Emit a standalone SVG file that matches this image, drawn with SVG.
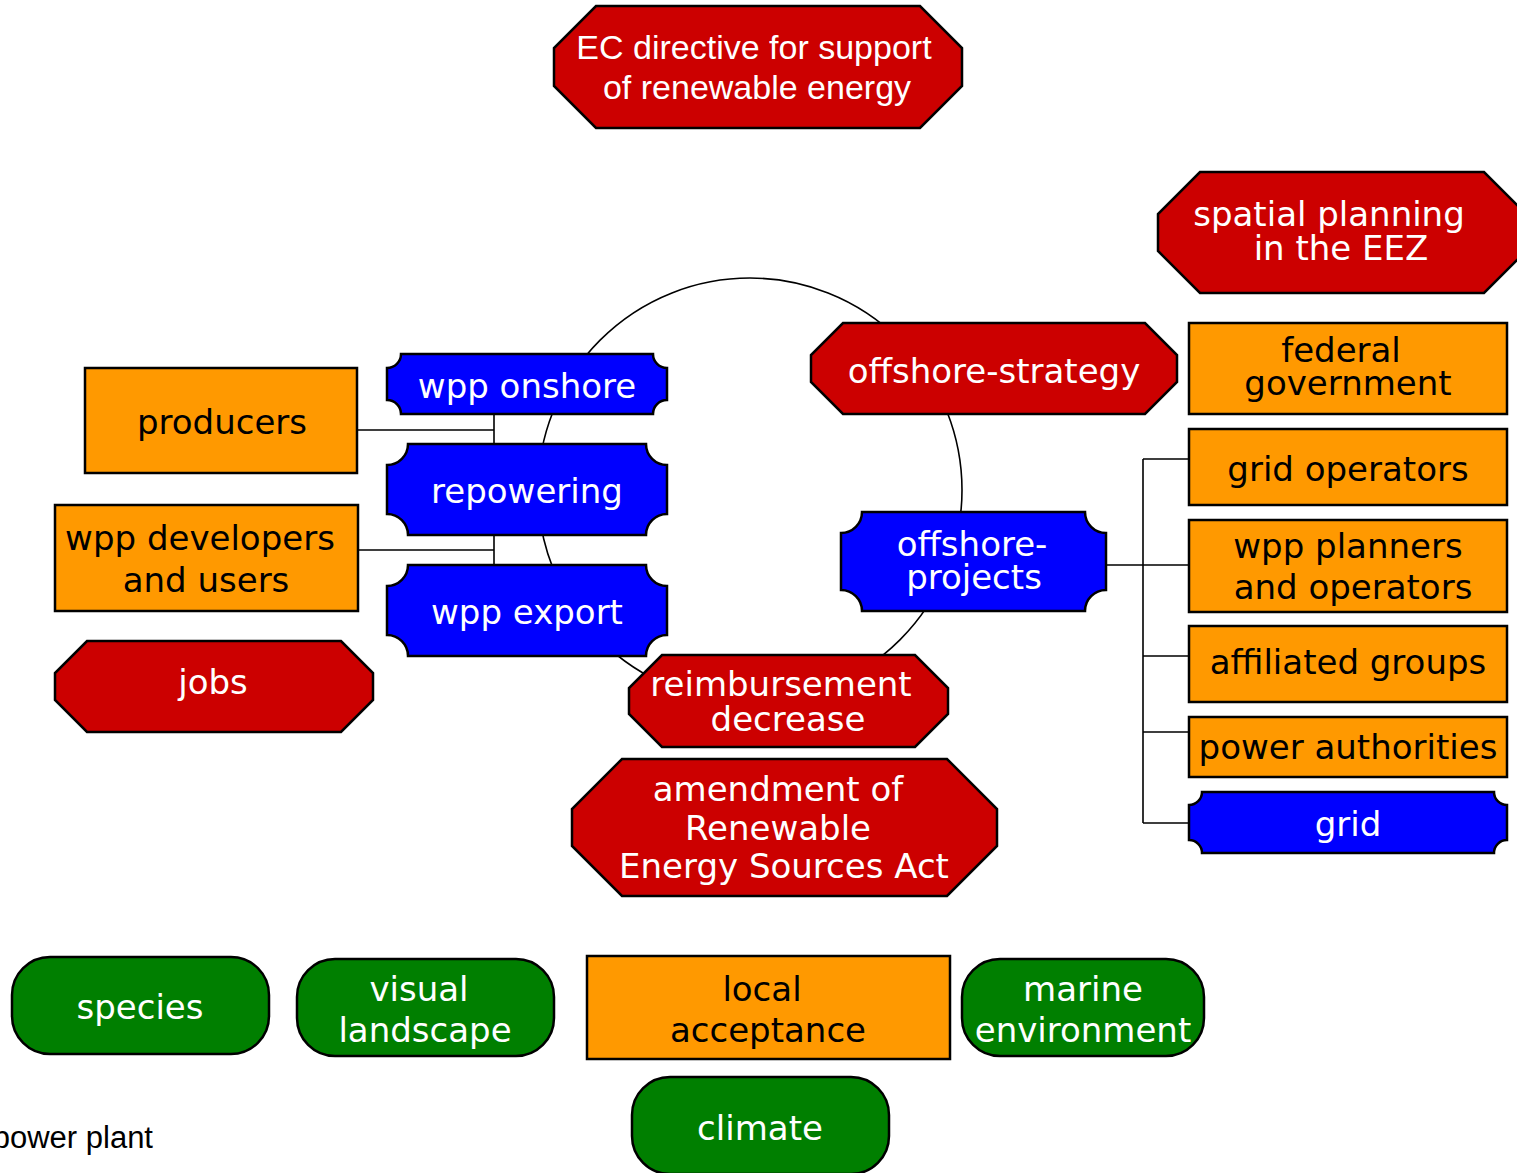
<svg xmlns="http://www.w3.org/2000/svg" width="1517" height="1173" viewBox="0 0 1517 1173">
<style>
.red{fill:#CC0000;stroke:#000;stroke-width:2.5}
.blue{fill:#0000FF;stroke:#000;stroke-width:2.5}
.org{fill:#FF9900;stroke:#000;stroke-width:2.5}
.grn{fill:#007F00;stroke:#000;stroke-width:2.5}
.c{fill:none;stroke:#000;stroke-width:1.6}
text{font-family:"DejaVu Sans",sans-serif;font-size:34px;text-anchor:middle}
.w{fill:#fff}
.k{fill:#000}
.ar{font-family:"Liberation Sans",Arial,sans-serif}
</style>
<rect width="1517" height="1173" fill="#fff"/>
<g id="connectors">
<circle class="c" cx="750" cy="490" r="212"/>
<path class="c" d="M357,430 H494 M494,414 V444 M358,550 H494 M494,535 V565"/>
<path class="c" d="M1143,459 V823 M1143,459 H1189 M1106,565 H1189 M1143,656 H1189 M1143,732 H1189 M1143,823 H1189"/>
</g>
<g id="ec-directive">
<polygon class="red" points="596,6 920,6 962,48 962,86 920,128 596,128 554,86 554,48"/>
<text class="w ar" x="754" y="59">EC directive for support</text>
<text class="w ar" x="757" y="99">of renewable energy</text>
</g>
<g id="spatial-planning">
<polygon class="red" points="1200,172 1484,172 1526,214 1526,251 1484,293 1200,293 1158,251 1158,214"/>
<text class="w" x="1329" y="226">spatial planning</text>
<text class="w" x="1341" y="260">in the EEZ</text>
</g>
<g id="offshore-strategy">
<polygon class="red" points="843,323 1145,323 1177,355 1177,382 1145,414 843,414 811,382 811,355"/>
<text class="w" x="994" y="383">offshore-strategy</text>
</g>
<g id="federal-government">
<rect class="org" x="1189" y="323" width="318" height="91"/>
<text class="k" x="1341" y="362">federal</text>
<text class="k" x="1348" y="395">government</text>
</g>
<g id="producers">
<rect class="org" x="85" y="368" width="272" height="105"/>
<text class="k" x="222" y="434">producers</text>
</g>
<g id="wpp-developers">
<rect class="org" x="55" y="505" width="303" height="106"/>
<text class="k" x="200" y="550">wpp developers</text>
<text class="k" x="206" y="592">and users</text>
</g>
<g id="jobs">
<polygon class="red" points="87,641 341,641 373,673 373,700 341,732 87,732 55,700 55,673"/>
<text class="w" x="213" y="694">jobs</text>
</g>
<g id="wpp-onshore">
<path class="blue" d="M401,354 H653 A14,14 0 0 0 667,368 V400 A14,14 0 0 0 653,414 H401 A14,14 0 0 0 387,400 V368 A14,14 0 0 0 401,354 Z"/>
<text class="w" x="527" y="398">wpp onshore</text>
</g>
<g id="repowering">
<path class="blue" d="M408,444 H646 A21,21 0 0 0 667,465 V514 A21,21 0 0 0 646,535 H408 A21,21 0 0 0 387,514 V465 A21,21 0 0 0 408,444 Z"/>
<text class="w" x="527" y="503">repowering</text>
</g>
<g id="wpp-export">
<path class="blue" d="M408,565 H646 A21,21 0 0 0 667,586 V635 A21,21 0 0 0 646,656 H408 A21,21 0 0 0 387,635 V586 A21,21 0 0 0 408,565 Z"/>
<text class="w" x="527" y="624">wpp export</text>
</g>
<g id="offshore-projects">
<path class="blue" d="M862,512 H1085 A21,21 0 0 0 1106,533 V590 A21,21 0 0 0 1085,611 H862 A21,21 0 0 0 841,590 V533 A21,21 0 0 0 862,512 Z"/>
<text class="w" x="972" y="556">offshore-</text>
<text class="w" x="974" y="589">projects</text>
</g>
<g id="grid-operators">
<rect class="org" x="1189" y="429" width="318" height="76"/>
<text class="k" x="1348" y="481">grid operators</text>
</g>
<g id="wpp-planners">
<rect class="org" x="1189" y="520" width="318" height="92"/>
<text class="k" x="1348" y="558">wpp planners</text>
<text class="k" x="1353" y="599">and operators</text>
</g>
<g id="affiliated-groups">
<rect class="org" x="1189" y="626" width="318" height="76"/>
<text class="k" x="1348" y="674">affiliated groups</text>
</g>
<g id="power-authorities">
<rect class="org" x="1189" y="717" width="318" height="60"/>
<text class="k" x="1348" y="759">power authorities</text>
</g>
<g id="grid">
<path class="blue" d="M1202,792 H1494 A13,13 0 0 0 1507,805 V840 A13,13 0 0 0 1494,853 H1202 A13,13 0 0 0 1189,840 V805 A13,13 0 0 0 1202,792 Z"/>
<text class="w" x="1348" y="836">grid</text>
</g>
<g id="reimbursement-decrease">
<polygon class="red" points="662,655 915,655 948,688 948,714 915,747 662,747 629,714 629,688"/>
<text class="w" x="781" y="696">reimbursement</text>
<text class="w" x="788" y="731">decrease</text>
</g>
<g id="amendment">
<polygon class="red" points="622,759 947,759 997,809 997,846 947,896 622,896 572,846 572,809"/>
<text class="w" x="778" y="801">amendment of</text>
<text class="w" x="778" y="840">Renewable</text>
<text class="w" x="784" y="878">Energy Sources Act</text>
</g>
<g id="species">
<rect class="grn" x="12" y="957" width="257" height="97" rx="38" ry="38"/>
<text class="w" x="140" y="1019">species</text>
</g>
<g id="visual-landscape">
<rect class="grn" x="297" y="959" width="257" height="97" rx="38" ry="38"/>
<text class="w" x="419" y="1001">visual</text>
<text class="w" x="425" y="1042">landscape</text>
</g>
<g id="local-acceptance">
<rect class="org" x="587" y="956" width="363" height="103"/>
<text class="k" x="762" y="1001">local</text>
<text class="k" x="768" y="1042">acceptance</text>
</g>
<g id="marine-environment">
<rect class="grn" x="962" y="959" width="242" height="97" rx="38" ry="38"/>
<text class="w" x="1083" y="1001">marine</text>
<text class="w" x="1083" y="1042">environment</text>
</g>
<g id="climate">
<rect class="grn" x="632" y="1077" width="257" height="97" rx="38" ry="38"/>
<text class="w" x="760" y="1140">climate</text>
</g>
<text class="k ar" x="153" y="1148" style="font-size:31px;text-anchor:end">power plant</text>
</svg>
